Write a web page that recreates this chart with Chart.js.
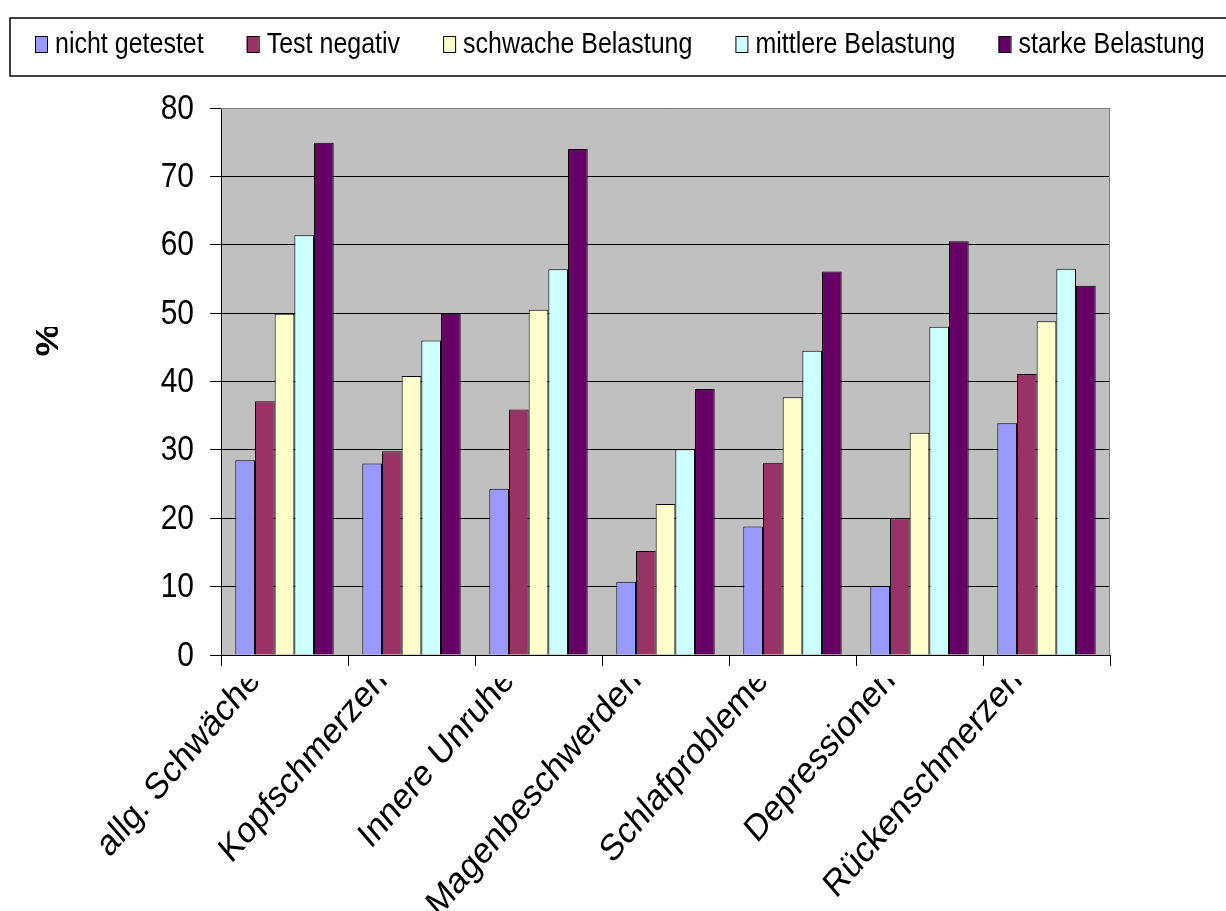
<!DOCTYPE html>
<html>
<head>
<meta charset="utf-8">
<title>Beschwerden nach Belastung</title>
<script src="https://cdn.jsdelivr.net/npm/chart.js@4.4.1/dist/chart.umd.min.js"></script>
<style>
  html, body { margin: 0; padding: 0; background: #ffffff; }
  #wrap { width: 1226px; height: 911px; position: relative; }
</style>
</head>
<body>
<div id="wrap"><canvas id="c" width="1226" height="911"></canvas></div>
<script>
// Beschwerden (Kategorien)
const categories = ['allg. Schwäche', 'Kopfschmerzen', 'Innere Unruhe', 'Magenbeschwerden',
                    'Schlafprobleme', 'Depressionen', 'Rückenschmerzen'];

// Gruppen
const seriesNames = ['nicht getestet', 'Test negativ', 'schwache Belastung',
                     'mittlere Belastung', 'starke Belastung'];
const seriesColors = ['#9999FF', '#993366', '#FFFFCC', '#CCFFFF', '#660066'];

// Anteile in %
const nichtGetestet     = [28.5, 28.0, 24.3, 10.7, 18.8, 10.1, 33.9];
const testNegativ       = [37.1, 29.8, 35.9, 15.2, 28.1, 20.0, 41.1];
const schwacheBelastung = [49.9, 40.8, 50.5, 22.1, 37.7, 32.5, 48.8];
const mittlereBelastung = [61.4, 46.0, 56.4, 30.1, 44.5, 48.0, 56.5];
const starkeBelastung   = [74.9, 49.9, 74.0, 38.9, 56.1, 60.5, 54.0];

// Y-Achse
const yMin = 0, yMax = 80, yStep = 10;
const yTitle = '%';

const seriesValues = [nichtGetestet, testNegativ, schwacheBelastung, mittlereBelastung, starkeBelastung];

// all text is drawn slightly taller than wide
const STRETCH = 1.16;
const FAMILY = "'Liberation Sans', Arial, sans-serif";

const decor = {
  id: 'decor',
  beforeDraw(chart) {
    const { ctx, chartArea: a } = chart;
    ctx.save();
    ctx.fillStyle = '#FFFFFF';
    ctx.fillRect(0, 0, chart.width, chart.height);
    ctx.fillStyle = '#C0C0C0';
    ctx.fillRect(a.left, a.top, a.right - a.left, a.bottom - a.top);
    ctx.restore();
  },
  afterDraw(chart) {
    const { ctx, chartArea: a } = chart;
    const xs = chart.scales.x;
    const ys = chart.scales.y;
    ctx.save();

    // grey frame on the top and right of the plot area
    ctx.strokeStyle = '#808080';
    ctx.lineWidth = 1;
    ctx.beginPath();
    ctx.moveTo(a.left, a.top + 0.5);
    ctx.lineTo(a.right - 0.5, a.top + 0.5);
    ctx.lineTo(a.right - 0.5, a.bottom);
    ctx.stroke();

    // value labels of the y axis
    ctx.font = '30px ' + FAMILY;
    ctx.fillStyle = '#000';
    ctx.textAlign = 'right';
    ctx.textBaseline = 'middle';
    ys.ticks.forEach((t) => {
      const y = ys.getPixelForValue(t.value);
      ctx.save();
      ctx.translate(ys.right - 27, y + 1);
      ctx.scale(1, STRETCH);
      ctx.fillText(String(t.label), 0, 0);
      ctx.restore();
    });

    // legend with frame
    ctx.strokeStyle = '#000';
    ctx.lineWidth = 1.5;
    ctx.strokeRect(10, 18, 1240, 58);
    ctx.font = '25px ' + FAMILY;
    ctx.textBaseline = 'middle';
    ctx.textAlign = 'left';
    let x = 35;
    const yMid = 45;
    chart.data.datasets.forEach((ds) => {
      ctx.fillStyle = ds.backgroundColor;
      ctx.fillRect(x, 36, 12, 16);
      ctx.strokeStyle = '#000';
      ctx.lineWidth = 1;
      ctx.strokeRect(x + 0.5, 36.5, 12, 16);
      ctx.fillStyle = '#000';
      ctx.save();
      ctx.translate(x + 20, yMid);
      ctx.scale(1, STRETCH);
      ctx.fillText(ds.label, 0, 0);
      ctx.restore();
      x += 20 + ctx.measureText(ds.label).width + 43;
    });

    // category labels, rotated and cut along a line below the axis
    ctx.save();
    ctx.beginPath();
    ctx.rect(0, xs.top + 24, chart.width, chart.height);
    ctx.clip();
    ctx.font = '32px ' + FAMILY;
    ctx.fillStyle = '#000';
    ctx.textAlign = 'right';
    ctx.textBaseline = 'alphabetic';
    chart.data.labels.forEach((lab, i) => {
      const cx = xs.getPixelForValue(i);
      ctx.save();
      ctx.translate(cx - 23, xs.top + 27);
      ctx.scale(1, STRETCH);
      ctx.rotate(-Math.PI / 4);
      ctx.fillText(lab, 0, 0);
      ctx.restore();
    });
    ctx.restore();

    // axis title
    ctx.save();
    ctx.beginPath();
    ctx.rect(0, 327, 120, 200);
    ctx.clip();
    ctx.font = 'bold 32px ' + FAMILY;
    ctx.fillStyle = '#000';
    ctx.textAlign = 'center';
    ctx.textBaseline = 'alphabetic';
    ctx.translate(58, 340);
    ctx.scale(1, STRETCH);
    ctx.rotate(-Math.PI / 2);
    ctx.fillText(yTitle, 0, 0);
    ctx.restore();

    ctx.restore();
  }
};

new Chart(document.getElementById('c').getContext('2d'), {
  type: 'bar',
  data: {
    labels: categories,
    datasets: seriesNames.map((name, i) => ({
      label: name,
      data: seriesValues[i],
      backgroundColor: seriesColors[i],
      borderColor: '#000000',
      borderWidth: 1,
      categoryPercentage: 0.775,
      barPercentage: 1.0
    }))
  },
  options: {
    responsive: false,
    animation: false,
    devicePixelRatio: 1,
    layout: { padding: { left: 0, top: 108, right: 116, bottom: 0 } },
    plugins: {
      legend: { display: false },
      tooltip: { enabled: false },
      title: { display: false }
    },
    scales: {
      x: {
        offset: true,
        grid: { display: true, drawOnChartArea: false, drawTicks: true, tickLength: 11,
                color: '#000', offset: true },
        border: { color: '#000', width: 1 },
        ticks: { display: false },
        afterFit(s) { s.height = 256; }
      },
      y: {
        min: yMin, max: yMax,
        ticks: { stepSize: yStep, display: false },
        grid: { color: '#000', lineWidth: 1, tickLength: 11 },
        border: { color: '#000', width: 1 },
        afterFit(s) { s.width = 221; }
      }
    }
  },
  plugins: [decor]
});
</script>
</body>
</html>
